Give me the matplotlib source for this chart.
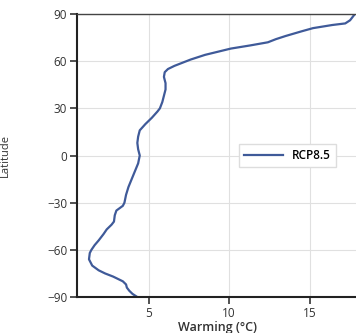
import matplotlib.pyplot as plt

# latitude profile of warming, RCP8.5
lat = [-90, -88, -86, -84, -82, -80, -77, -75, -73, -70, -66, -62, -60, -57, -54, -50,
       -47, -44, -42, -38, -35, -32, -30, -25, -20, -15, -10, -5, 0, 4, 8, 12,
       16, 20, 24, 28, 30, 34, 38, 42, 46, 50, 53, 55, 57, 59, 61, 64,
       66, 68, 70, 72, 74, 76, 79, 81, 83, 84, 86, 88, 90]
warming = [4.3, 4.0, 3.8, 3.65, 3.6, 3.4, 2.8, 2.3, 1.9, 1.5, 1.3, 1.35, 1.45, 1.65, 1.9, 2.2,
           2.4, 2.7, 2.85, 2.9, 3.0, 3.4, 3.5, 3.6, 3.75, 3.95, 4.15, 4.35, 4.45, 4.35, 4.3, 4.35,
           4.45, 4.8, 5.2, 5.55, 5.7, 5.85, 5.95, 6.05, 6.05, 5.95, 6.0, 6.2, 6.6, 7.1, 7.6, 8.5,
           9.3, 10.1, 11.3, 12.4, 12.9, 13.5, 14.5, 15.2, 16.4, 17.2, 17.5, 17.65, 17.8]
xticks = [5, 10, 15]
yticks = [-90, -60, -30, 0, 30, 60, 90]

plt.rcParams['font.family'] = ['Open Sans', 'DejaVu Sans']

fig = plt.figure(figsize=(3.56, 3.33), dpi=100)
ax = fig.add_axes([0.216, 0.108, 0.79, 0.85])

ax.plot(warming, lat, color='#3f5a99', lw=1.6, label='RCP8.5')

ax.set_xlim(0.55, 18.0)
ax.set_ylim(-90, 90)
ax.set_xticks(xticks)
ax.set_yticks(yticks)
ax.set_yticklabels(['\u221290', '\u221260', '\u221230', '0', '30', '60', '90'])
ax.grid(True, color='#e0e0e0', lw=0.8)
ax.set_axisbelow(True)

for s in ['left', 'bottom']:
    ax.spines[s].set_linewidth(1.5)
    ax.spines[s].set_color('#222222')
ax.spines['top'].set_linewidth(1.0)
ax.spines['top'].set_color('#444444')
ax.spines['right'].set_visible(False)
ax.tick_params(labelsize=8.5, colors='#333333', width=1.2, length=5, pad=2)

ax.set_xlabel('Warming (°C)', fontsize=9, fontweight='semibold', color='#333333')
ax.xaxis.set_label_coords(0.5, -0.083)
ax.set_ylabel('Latitude', fontsize=8, color='#333333')
ax.yaxis.set_label_coords(-0.235, 0.5)

ax.legend(loc='center left', bbox_to_anchor=(0.555, 0.5), handlelength=3.3,
          frameon=True, edgecolor='#dddddd', fancybox=False, framealpha=1,
          prop={'size': 8.5, 'weight': 'semibold'})

plt.savefig('out.png', dpi=100)
